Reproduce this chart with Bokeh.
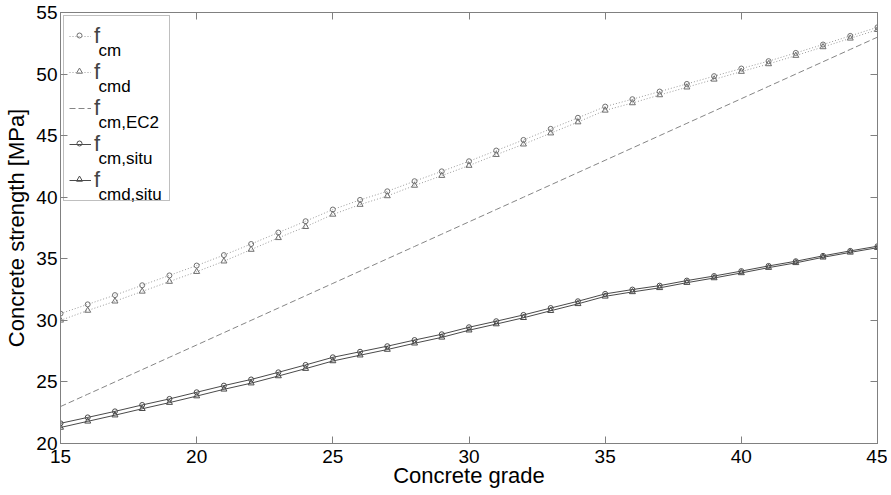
from bokeh.plotting import figure
from bokeh.models import (Range1d, FixedTicker, LinearAxis, Legend, LegendItem, ColumnDataSource)
from bokeh.core.properties import value
from bokeh.embed import file_html
from bokeh.resources import INLINE

# ---- data ----
grade = [15, 16, 17, 18, 19, 20, 21, 22, 23, 24, 25, 26, 27, 28, 29, 30,
         31, 32, 33, 34, 35, 36, 37, 38, 39, 40, 41, 42, 43, 44, 45]
f_cm = [30.55, 31.3, 32.05, 32.85, 33.65, 34.45, 35.3, 36.2, 37.13, 38.05,
        39.0, 39.78, 40.48, 41.3, 42.1, 42.92, 43.79, 44.65, 45.55, 46.45,
        47.36, 47.96, 48.58, 49.2, 49.83, 50.45, 51.05, 51.72, 52.4, 53.1, 53.8]
f_cmd = [30.0, 30.8, 31.55, 32.35, 33.15, 33.95, 34.8, 35.75, 36.7, 37.6,
         38.6, 39.4, 40.1, 40.95, 41.75, 42.57, 43.45, 44.3, 45.2, 46.1,
         47.05, 47.65, 48.3, 48.93, 49.57, 50.2, 50.82, 51.5, 52.2, 52.9, 53.6]
f_cm_ec2 = [23, 24, 25, 26, 27, 28, 29, 30, 31, 32, 33, 34, 35, 36, 37, 38,
            39, 40, 41, 42, 43, 44, 45, 46, 47, 48, 49, 50, 51, 52, 53]
f_cm_situ = [21.64, 22.12, 22.61, 23.13, 23.62, 24.16, 24.7, 25.2, 25.78, 26.38,
             27.0, 27.45, 27.9, 28.4, 28.87, 29.44, 29.93, 30.44, 31.0, 31.55,
             32.15, 32.5, 32.82, 33.23, 33.6, 34.0, 34.42, 34.8, 35.24, 35.64, 36.02]
f_cmd_situ = [21.3, 21.8, 22.3, 22.82, 23.32, 23.85, 24.4, 24.9, 25.48, 26.08,
              26.7, 27.17, 27.63, 28.14, 28.62, 29.2, 29.7, 30.21, 30.78, 31.34,
              31.95, 32.31, 32.64, 33.06, 33.44, 33.85, 34.28, 34.67, 35.12, 35.52, 35.9]
x_ticks = [15, 20, 25, 30, 35, 40, 45]
y_ticks = [20, 25, 30, 35, 40, 45, 50, 55]
legend_subs = ["cm", "cmd", "cm,EC2", "cm,situ", "cmd,situ"]

FONT = "Liberation Sans"
AX = "#808080"
X0, X1, Y0, Y1 = 15, 45, 20, 55
FW, FH = 817, 431          # frame size in px
BL, BT = 60, 12            # frame offset (left, top) in px

p = figure(frame_width=FW, frame_height=FH, output_backend="svg", toolbar_location=None,
           x_range=Range1d(X0, X1), y_range=Range1d(Y0, Y1),
           min_border_left=BL, min_border_right=10, min_border_top=BT, min_border_bottom=30)
p.background_fill_color = "white"
p.border_fill_color = "white"
p.outline_line_color = AX
p.grid.visible = False

for ax, ticks in ((p.xaxis[0], x_ticks), (p.yaxis[0], y_ticks)):
    ax.ticker = FixedTicker(ticks=ticks)
    ax.major_tick_in = 7
    ax.major_tick_out = 0
    ax.minor_tick_in = 0
    ax.minor_tick_out = 0
    ax.axis_line_color = AX
    ax.major_tick_line_color = AX
    ax.major_label_text_font = FONT
    ax.major_label_text_font_size = "19px"
    ax.major_label_text_color = "black"
    ax.axis_label_text_font = FONT
    ax.axis_label_text_font_size = "22px"
    ax.axis_label_text_font_style = "normal"
    ax.axis_label_text_color = "black"

p.xaxis.axis_label = "Concrete grade"
p.yaxis.axis_label = "Concrete strength [MPa]"
p.xaxis.major_label_standoff = 6
p.yaxis.major_label_standoff = 3
p.xaxis.axis_label_standoff = -3
p.yaxis.axis_label_standoff = 4

for loc, ticks in (("above", x_ticks), ("right", y_ticks)):
    a = LinearAxis(ticker=FixedTicker(ticks=ticks), major_tick_in=7, major_tick_out=0,
                   minor_tick_in=0, minor_tick_out=0, axis_line_color=AX,
                   major_tick_line_color=AX, major_label_text_font_size="0px",
                   major_label_text_color=None, major_label_standoff=0)
    p.add_layout(a, loc)

DOT = "#9a9a9a"
MK = "#707070"
DARK = "#4a4a4a"

l1 = p.line(grade, f_cm, line_color=DOT, line_dash="1 2", line_width=1)
p.scatter(grade, f_cm, marker="circle", size=5, fill_color=None, line_color=MK)
l2 = p.line(grade, f_cmd, line_color=DOT, line_dash="1 2", line_width=1)
p.scatter(grade, f_cmd, marker="triangle", size=6, fill_color=None, line_color=MK)
l3 = p.line(grade, f_cm_ec2, line_color="#858585", line_dash="6 3", line_width=1)
l4 = p.line(grade, f_cm_situ, line_color=DARK, line_width=1)
p.scatter(grade, f_cm_situ, marker="circle", size=5, fill_color=None, line_color=DARK)
l5 = p.line(grade, f_cmd_situ, line_color=DARK, line_width=1)
p.scatter(grade, f_cmd_situ, marker="triangle", size=6, fill_color=None, line_color=DARK)

items = [LegendItem(label="f", renderers=[r]) for r in (l1, l2, l3, l4, l5)]
MARGIN, PAD, GW, GH, SP = 3, 5, 22, 30, 6
leg = Legend(items=items, location="top_left", margin=MARGIN, padding=PAD, spacing=SP,
             glyph_width=GW, glyph_height=GH, label_width=70, label_height=GH,
             label_standoff=3, label_text_font=FONT, label_text_font_size="22px",
             label_text_baseline="middle",
             border_line_color=AX, border_line_width=1, background_fill_color="white",
             background_fill_alpha=0)
p.add_layout(leg)

# legend markers and subscripts, placed from the legend's pixel layout
def px_to_x(px):
    return X0 + px * (X1 - X0) / FW

def px_to_y(py):
    return Y1 - py * (Y1 - Y0) / FH

centers = [MARGIN + PAD + GH / 2 + i * (GH + SP) for i in range(len(legend_subs))]
gx = px_to_x(MARGIN + PAD + GW / 2)
p.scatter(x=[gx, gx, gx, gx], y=[px_to_y(centers[i]) for i in (0, 1, 3, 4)],
          marker=["circle", "triangle", "circle", "triangle"], size=[5, 6, 5, 6],
          fill_color=None, line_color=[MK, MK, DARK, DARK], level="overlay")

sub_x = px_to_x(MARGIN + PAD + GW + 3 + 5)
sub_src = ColumnDataSource(dict(
    x=[sub_x] * len(legend_subs),
    y=[px_to_y(c + 15) for c in centers],
    t=legend_subs))
p.text(x="x", y="y", text="t", source=sub_src, text_font=value(FONT),
       text_font_size="17px", text_baseline="alphabetic", text_align="left",
       text_color="black", level="overlay")

open("out.html", "w").write(file_html(p, INLINE))
